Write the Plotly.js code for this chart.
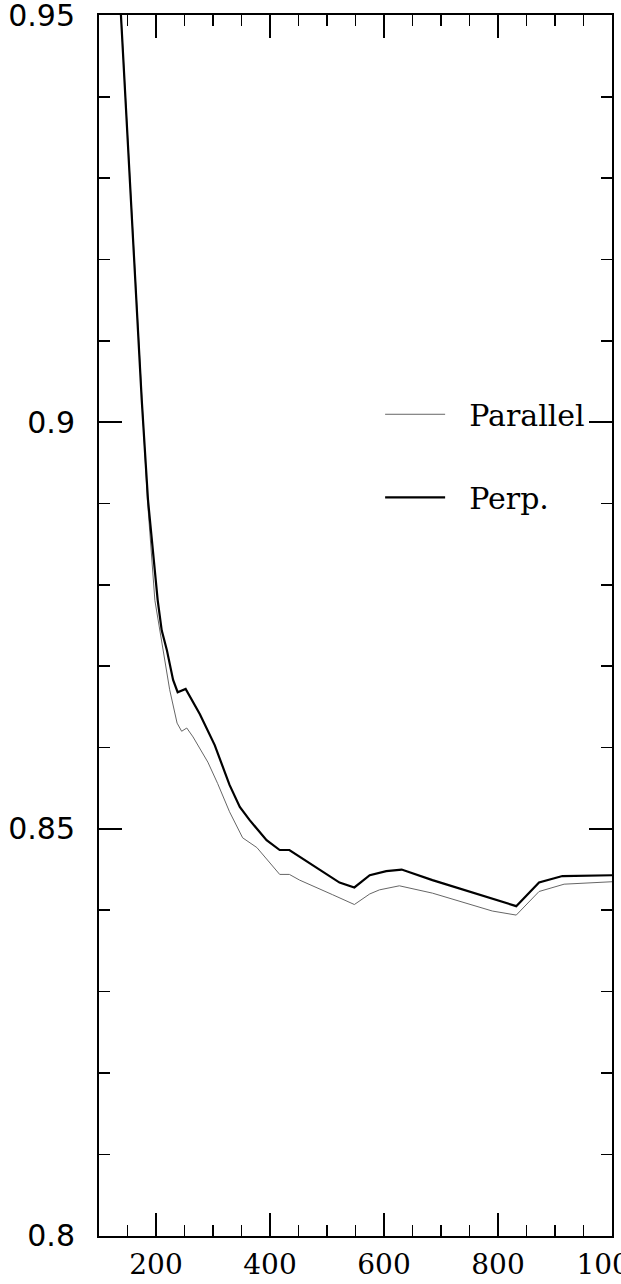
<!DOCTYPE html>
<html><head><meta charset="utf-8">
<script src="https://cdn.plot.ly/plotly-3.0.1.min.js"></script>
<style>html,body{margin:0;padding:0;background:#fff;overflow:hidden}</style>
</head><body><div id="chart" style="width:621px;height:1284px"></div>
<script>
const parX = [120, 138.5, 175, 185, 198, 212, 224, 237, 245, 254, 265, 291, 308, 329, 352, 377, 417, 434, 452, 510, 548, 575, 592, 627, 685, 790, 832, 872, 916, 1000];
const parY = [0.974, 0.950, 0.9027, 0.8904, 0.8781, 0.8720, 0.8671, 0.8630, 0.8620, 0.8624, 0.8613, 0.8582, 0.8556, 0.8521, 0.8489, 0.8477, 0.8444, 0.8444, 0.8437, 0.8419, 0.8407, 0.8420, 0.8425, 0.8430, 0.8421, 0.8399, 0.8394, 0.8423, 0.8432, 0.8435];
const perpX = [120, 138.5, 175, 186, 203, 210, 219, 230, 238, 252, 277, 303, 329, 347, 364, 394, 417, 434, 452, 487, 522, 548, 575, 604, 631, 685, 767, 832, 872, 913, 1000];
const perpY = [0.974, 0.950, 0.9027, 0.8904, 0.8781, 0.8744, 0.8720, 0.8683, 0.8668, 0.8672, 0.8641, 0.8603, 0.8554, 0.8527, 0.8511, 0.8486, 0.8474, 0.8474, 0.8466, 0.8450, 0.8434, 0.8428, 0.8443, 0.8448, 0.8450, 0.8437, 0.8419, 0.8405, 0.8434, 0.8442, 0.8443];
const xTickVals = [200, 400, 600, 800, 1000];
const xTickText = ['200', '400', '600', '800', '1000'];
const yTickVals = [0.8, 0.85, 0.9, 0.95];
const yTickText = ['0.8', '0.85', '0.9', '0.95'];
const seriesNames = ['Parallel', 'Perp.'];

const pad = '\u00a0\u00a0';
const traces = [
  {x: parX, y: parY, mode: 'lines', name: pad + seriesNames[0], line: {color: '#666', width: 1}, legend: 'legend'},
  {x: perpX, y: perpY, mode: 'lines', name: pad + seriesNames[1], line: {color: '#000', width: 2.2}, legend: 'legend2'}
];
const legFont = {family: 'DejaVu Serif', size: 30, color: '#000'};
const layout = {
  width: 621, height: 1284,
  margin: {l: 99, r: 9, t: 15, b: 48},
  paper_bgcolor: '#fff', plot_bgcolor: '#fff',
  showlegend: true,
  xaxis: {
    range: [100, 1000], tickvals: xTickVals, ticktext: xTickText,
    ticks: 'inside', ticklen: 23, tickwidth: 1.5, tickcolor: '#000',
    showline: true, linecolor: '#000', linewidth: 2, mirror: 'ticks',
    showgrid: false, zeroline: false, ticklabelstandoff: 2, ticklabeloverflow: 'allow',
    minor: {dtick: 50, tick0: 0, ticks: 'inside', ticklen: 11, tickwidth: 1.5, tickcolor: '#000', showgrid: false},
    tickfont: {family: 'DejaVu Serif', size: 28, color: '#000'}
  },
  yaxis: {
    range: [0.79995, 0.95005], tickvals: yTickVals, ticktext: yTickText,
    ticks: 'inside', ticklen: 23, tickwidth: 1.5, tickcolor: '#000',
    showline: true, linecolor: '#000', linewidth: 2, mirror: 'ticks',
    showgrid: false, zeroline: false, ticklabelstandoff: 16, ticklabeloverflow: 'allow',
    minor: {dtick: 0.01, tick0: 0.8, ticks: 'inside', ticklen: 11, tickwidth: 1.5, tickcolor: '#000', showgrid: false},
    tickfont: {family: 'DejaVu Sans', size: 30, color: '#000'}
  },
  legend: {x: 0.548, y: 0.673, xanchor: 'left', yanchor: 'middle', font: legFont, bgcolor: 'rgba(0,0,0,0)', itemwidth: 60},
  legend2: {x: 0.548, y: 0.605, xanchor: 'left', yanchor: 'middle', font: legFont, bgcolor: 'rgba(0,0,0,0)', itemwidth: 60}
};
Plotly.newPlot('chart', traces, layout, {displayModeBar: false, staticPlot: true});
</script>
</body></html>
